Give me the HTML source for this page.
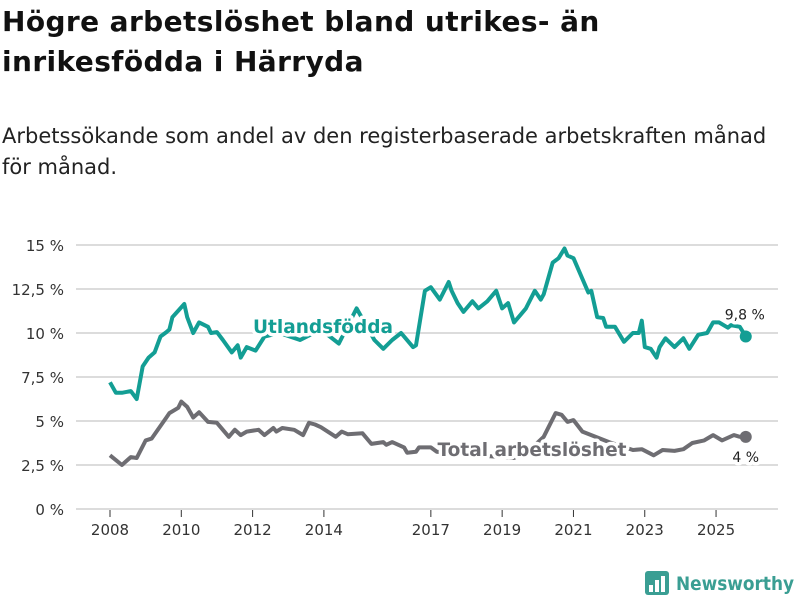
<!DOCTYPE html>
<html><head><meta charset="utf-8"><style>
body{margin:0;background:#fff;font-family:"DejaVu Sans","Liberation Sans",sans-serif;}
#wrap{position:relative;width:800px;height:600px;overflow:hidden;}
h1{position:absolute;left:2px;top:2px;margin:0;font-size:28px;line-height:40px;font-weight:bold;color:#111;width:680px;letter-spacing:0.4px;}
p.sub{position:absolute;left:2px;top:121px;margin:0;font-size:21px;line-height:31px;color:#222;width:770px;}
</style></head><body>
<div id="wrap">
<h1>Högre arbetslöshet bland utrikes- än inrikesfödda i Härryda</h1>
<p class="sub">Arbetssökande som andel av den registerbaserade arbetskraften månad för månad.</p>
<svg id="chart" width="800" height="600" style="position:absolute;left:0;top:0"></svg>
</div>
<script>
const yTicks=[0,2.5,5,7.5,10,12.5,15];
const yTickLabels=["0 %","2,5 %","5 %","7,5 %","10 %","12,5 %","15 %"];
const xTickYears=[2008,2010,2012,2014,2017,2019,2021,2023,2025];
const utlMonths=[0,2,4,7,9,11,13,15,17,19,20,21,25,26,28,30,33,34,36,38,41,43,44,46,49,52,57,64,71,77,83,89,92,95,98,102,103,106,108,111,114,115,117,119,122,124,127,130,132,134,136,138,140,143,145,146,149,151,153,154,156,161,162,164,166,167,170,173,176,178,179,180,182,184,185,187,190,193,195,198,201,203,205,208,209,212,214];
const utlValues=[7.2,6.6,6.6,6.7,6.25,8.1,8.6,8.9,9.8,10.05,10.2,10.9,11.65,10.9,10.0,10.6,10.35,10.0,10.05,9.6,8.9,9.3,8.6,9.2,9.0,9.8,10.0,9.6,10.2,9.4,11.4,9.6,9.1,9.6,10.0,9.2,9.3,12.4,12.6,11.9,12.9,12.4,11.7,11.2,11.8,11.4,11.8,12.4,11.4,11.7,10.6,11.0,11.4,12.4,11.9,12.2,14.0,14.25,14.8,14.4,14.25,12.3,12.4,10.9,10.85,10.35,10.35,9.5,10.0,10.0,10.7,9.2,9.1,8.6,9.2,9.7,9.2,9.7,9.1,9.9,10.0,10.6,10.6,10.3,10.45,10.35,9.8];
const totMonths=[0,4,7,9,12,14,19,20,23,24,26,28,30,33,36,40,42,44,46,50,52,55,56,58,62,65,67,69,71,76,78,80,85,88,92,93,95,99,100,103,104,108,110,118,128,136,141,146,150,152,154,156,159,162,168,176,179,183,186,190,193,196,200,203,206,210,212,214];
const totValues=[3.05,2.5,2.95,2.9,3.9,4.0,5.2,5.45,5.75,6.1,5.8,5.2,5.5,4.95,4.9,4.1,4.5,4.2,4.4,4.5,4.2,4.6,4.4,4.6,4.5,4.2,4.9,4.8,4.65,4.1,4.4,4.25,4.3,3.7,3.8,3.65,3.8,3.5,3.2,3.25,3.5,3.5,3.25,3.1,3.0,2.9,3.3,4.1,5.45,5.35,4.95,5.05,4.4,4.2,3.8,3.35,3.4,3.05,3.35,3.3,3.4,3.75,3.9,4.2,3.9,4.2,4.1,4.1];
const lastLabels=["9,8 %","4 %"];

const NS="http://www.w3.org/2000/svg";
const svg=document.getElementById('chart');
const xM=m=>110+m/12*35.65;
const xY=y=>xM((y-2008)*12);
const yV=v=>509-v*17.6;
function mk(t,a,p){const e=document.createElementNS(NS,t);for(const k in a)e.setAttribute(k,a[k]);(p||svg).appendChild(e);return e;}

yTicks.forEach((v,i)=>{
  const g=mk('line',{x1:76,x2:778,y1:yV(v),y2:yV(v),stroke:'#dcdcdc','stroke-width':2});
  
  
  const t=mk('text',{x:64,y:yV(v)+6,'text-anchor':'end','font-size':15,fill:'#333'});
  t.textContent=yTickLabels[i];
  
  
});
xTickYears.forEach(yr=>{
  const l=mk('line',{x1:xY(yr),x2:xY(yr),y1:510,y2:517,stroke:'#333','stroke-width':1});
  
  
  const t=mk('text',{x:xY(yr),y:535,'text-anchor':'middle','font-size':15,fill:'#333'});
  t.textContent=yr;
  
  
});
function line(ms,vs,color,name){
  const d=ms.map((m,i)=>(i?'L':'M')+xM(m).toFixed(1)+','+yV(vs[i]).toFixed(1)).join('');
  const p=mk('path',{d:d,fill:'none',stroke:color,'stroke-width':4,'stroke-linejoin':'round'});
  
  
  const n=ms.length-1;
  const c=mk('circle',{cx:xM(ms[n]),cy:yV(vs[n]),r:6,fill:color});
  
  
  return [xM(ms[n]),yV(vs[n])];
}
const e1=line(utlMonths,utlValues,'#139e94','utlandsfodda-line');
const e2=line(totMonths,totValues,'#6e6d72','total-line');
function lab(x,y,txt,col,size,weight,name,len){
  const a={x:x,y:y,'text-anchor':'middle','font-size':size,'font-weight':weight,fill:col,stroke:'#fff','stroke-width':7,'paint-order':'stroke','stroke-linejoin':'round'};
  if(len){a.textLength=len;a.lengthAdjust='spacingAndGlyphs';}
  const t=mk('text',a);
  t.textContent=txt;
  
  
}
lab(323,333,'Utlandsfödda','#139e94',19,'bold','utlandsfodda-label',140);
lab(532,456,'Total arbetslöshet','#6e6d72',19,'bold','total-label',189);
lab(e1[0]-1,e1[1]-17,lastLabels[0],'#222',14,'normal','utlandsfodda-value-label');
lab(e2[0],e2[1]+25,lastLabels[1],'#222',14,'normal','total-value-label');

const lg=mk('g',{});


mk('rect',{x:645,y:571,width:24,height:24,rx:3,fill:'#3a9e93'},lg);
[[649,585,4,7],[655,580,4,12],[661,576,4,16]].forEach(b=>mk('rect',{x:b[0],y:b[1],width:b[2],height:b[3],fill:'#fff'},lg));
const lt=mk('text',{x:676,y:590,'font-size':19,'font-weight':'bold',fill:'#3a9e93',textLength:118,lengthAdjust:'spacingAndGlyphs'},lg);
lt.textContent='Newsworthy';
</script>
</body></html>
